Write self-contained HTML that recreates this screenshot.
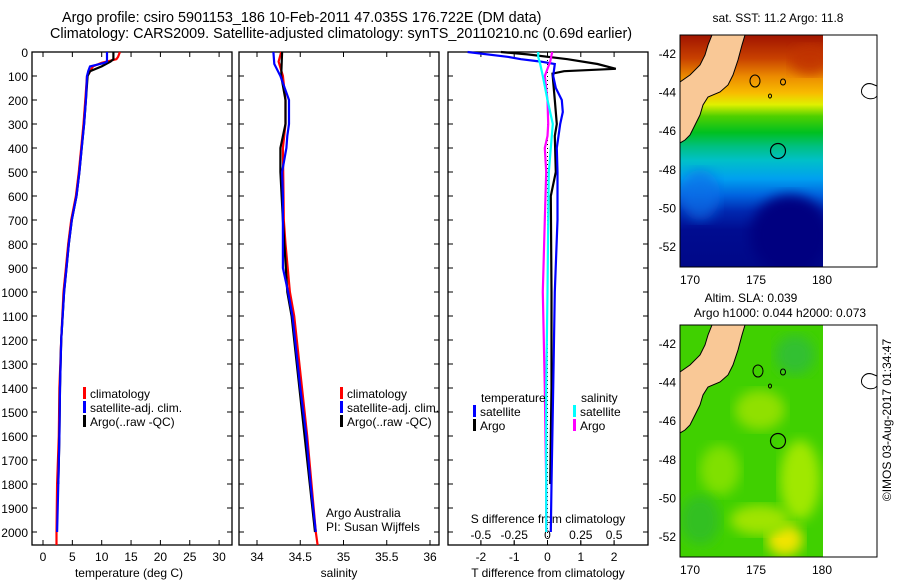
<!DOCTYPE html>
<html><head><meta charset="utf-8">
<style>
body{margin:0;background:#fff;}
svg{display:block;font-family:"Liberation Sans",sans-serif;}
text{fill:#000;}
</style></head>
<body>
<svg id="fig" width="900" height="580" viewBox="0 0 900 580" xmlns="http://www.w3.org/2000/svg">
<defs>
<linearGradient id="sstg" x1="0" y1="0" x2="0" y2="1" gradientUnits="objectBoundingBox">
<stop offset="0" stop-color="#a01400"/><stop offset="0.10" stop-color="#c84000"/>
<stop offset="0.18" stop-color="#ec8c00"/><stop offset="0.25" stop-color="#f8bc00"/>
<stop offset="0.30" stop-color="#e0f000"/><stop offset="0.35" stop-color="#50d000"/>
<stop offset="0.42" stop-color="#00c020"/><stop offset="0.48" stop-color="#00c080"/>
<stop offset="0.54" stop-color="#00c0c8"/><stop offset="0.62" stop-color="#00a0f0"/>
<stop offset="0.69" stop-color="#0064e0"/><stop offset="0.76" stop-color="#0028b0"/>
<stop offset="0.84" stop-color="#000c90"/><stop offset="1" stop-color="#000888"/>
</linearGradient>
<filter id="blur"><feGaussianBlur stdDeviation="6"/></filter>
<clipPath id="clipTop"><rect x="680" y="35" width="143" height="232"/></clipPath>
<clipPath id="clipBot"><rect x="680" y="325" width="143" height="232"/></clipPath>
</defs>

<g font-size="14.4">
<text x="62" y="22">Argo profile: csiro 5901153_186 10-Feb-2011 47.035S 176.722E (DM data)</text>
<text x="50" y="38">Climatology: CARS2009. Satellite-adjusted climatology: synTS_20110210.nc (0.69d earlier)</text>
</g>

<g id="panels"></g>

<g>
<text x="778" y="22" font-size="12" text-anchor="middle">sat. SST: 11.2 Argo: 11.8</text>
<g clip-path="url(#clipTop)">
<rect x="680" y="35" width="143" height="232" fill="url(#sstg)"/>
<ellipse cx="790" cy="235" rx="40" ry="40" fill="#000080" filter="url(#blur)"/>
<ellipse cx="700" cy="195" rx="20" ry="25" fill="#1070e8" filter="url(#blur)" opacity="0.7"/>
<ellipse cx="810" cy="60" rx="20" ry="15" fill="#c03000" filter="url(#blur)" opacity="0.8"/>
<polygon fill="#f9c896" stroke="#000" stroke-width="1" points="712,35 745,35 742,45 738,60 733,75 728,85 720,92 708,97 703,105 700,115 695,125 690,135 685,140 680,143 680,82 690,75 700,65 705,55 708,45"/>
</g>
<rect x="823" y="35" width="54" height="232" fill="#fff"/>
<ellipse cx="755" cy="81" rx="5" ry="6" fill="none" stroke="#000"/>
<ellipse cx="783" cy="82" rx="2.5" ry="3" fill="none" stroke="#000"/>
<ellipse cx="770" cy="96" rx="1.5" ry="2" fill="none" stroke="#000"/>
<path d="M872,84 C865,82 860,88 862,94 C866,100 874,100 877,96 L877,86 Z" fill="none" stroke="#000"/>
<circle cx="778" cy="151" r="7.5" fill="none" stroke="#000" stroke-width="1.2"/>
<rect x="680" y="35" width="197" height="232" fill="none" stroke="#000"/>
</g>

<g>
<text x="751" y="302" font-size="12" text-anchor="middle">Altim. SLA: 0.039</text>
<text x="780" y="317" font-size="12" text-anchor="middle">Argo h1000: 0.044 h2000: 0.073</text>
<g clip-path="url(#clipBot)">
<rect x="680" y="325" width="143" height="232" fill="#40d000"/>
<ellipse cx="760" cy="410" rx="25" ry="20" fill="#90e000" filter="url(#blur)"/>
<ellipse cx="720" cy="470" rx="20" ry="25" fill="#80e000" filter="url(#blur)"/>
<ellipse cx="800" cy="480" rx="20" ry="40" fill="#a0e800" filter="url(#blur)"/>
<ellipse cx="785" cy="540" rx="18" ry="16" fill="#f0e400" filter="url(#blur)"/>
<ellipse cx="760" cy="520" rx="30" ry="15" fill="#a0e400" filter="url(#blur)"/>
<ellipse cx="700" cy="520" rx="20" ry="25" fill="#30c020" filter="url(#blur)"/>
<ellipse cx="795" cy="355" rx="20" ry="20" fill="#30c030" filter="url(#blur)"/>
<polygon fill="#f9c896" stroke="#000" stroke-width="1" points="712,325 745,325 742,335 738,350 733,365 728,375 720,382 708,387 703,395 700,405 695,415 690,425 685,430 680,433 680,372 690,365 700,355 705,345 708,335"/>
</g>
<rect x="823" y="325" width="54" height="232" fill="#fff"/>
<ellipse cx="758" cy="371" rx="5" ry="6" fill="none" stroke="#000"/>
<ellipse cx="783" cy="372" rx="2.5" ry="3" fill="none" stroke="#000"/>
<ellipse cx="770" cy="386" rx="1.5" ry="2" fill="none" stroke="#000"/>
<path d="M872,374 C865,372 860,378 862,384 C866,390 874,390 877,386 L877,376 Z" fill="none" stroke="#000"/>
<circle cx="778" cy="441" r="7.5" fill="none" stroke="#000" stroke-width="1.2"/>
<rect x="680" y="325" width="197" height="232" fill="none" stroke="#000"/>
</g>
<text x="891" y="420" font-size="12" text-anchor="middle" transform="rotate(-90 891 420)">©IMOS 03-Aug-2017 01:34:47</text>
</svg>

<script>
const depthTicks = [0,100,200,300,400,500,600,700,800,900,1000,1100,1200,1300,1400,1500,1600,1700,1800,1900,2000];
const tempTicks = [0,5,10,15,20,25,30];
const salTicks = [34,34.5,35,35.5,36];
const tdiffTicks = [-2,-1,0,1,2];
const sdiffTicks = [-0.5,-0.25,0,0.25,0.5];
const sdiffTickLabels = ["-0.5","-0.25","0","0.25","0.5"];

const tClimDepth = [0,20,30,45,60,90,100,200,300,400,500,600,700,800,900,1000,1200,1400,1600,1800,2000,2054];
const tClim      = [13.1,12.8,12.5,10.0,8.5,7.8,7.5,7.2,6.9,6.5,6.1,5.6,4.8,4.3,3.9,3.5,3.1,2.8,2.7,2.4,2.3,2.3];
const tSatDepth  = [0,40,45,60,80,100,200,300,400,500,600,700,800,900,1000,1200,1400,1600,1800,2000];
const tSat       = [10.9,10.9,10.5,8.0,7.7,7.5,7.3,7.0,6.6,6.2,5.7,4.9,4.4,4.0,3.6,3.1,2.9,2.8,2.6,2.4];
const tArgoDepth = [0,30,40,60,80,100,200,300,400,500,600,700,800,900,1000,1200,1400,1600,1800];
const tArgo      = [12.0,12.0,11.5,10.0,8.0,7.6,7.3,7.0,6.6,6.2,5.7,4.9,4.4,4.0,3.6,3.1,2.9,2.8,2.6];

const sClimDepth = [0,40,100,200,300,400,700,800,1000,1100,1400,1600,1800,2000,2054];
const sClim      = [34.28,34.25,34.30,34.33,34.33,34.30,34.31,34.33,34.38,34.43,34.52,34.58,34.63,34.68,34.70];
const sSatDepth  = [0,50,100,150,200,300,350,400,500,600,900,1000,1100,1400,1600,1800,2000];
const sSat       = [34.19,34.20,34.27,34.32,34.37,34.37,34.35,34.34,34.29,34.30,34.30,34.36,34.41,34.50,34.57,34.62,34.68];
const sArgoDepth = [0,100,200,300,400,500,700,1000,1100,1400,1600,1800,2000];
const sArgo      = [34.29,34.28,34.33,34.33,34.27,34.27,34.30,34.35,34.40,34.49,34.55,34.61,34.67];

const dTSatDepth = [0,20,30,40,50,100,150,200,250,300,400,500,700,1000,1400,1800,2000];
const dTSat      = [-2.4,-1.2,-0.8,-0.2,0.22,0.17,0.25,0.43,0.46,0.38,0.28,0.3,0.3,0.22,0.17,0.12,0.1];
const dTArgoDepth= [0,10,30,50,70,80,90,200,300,350,500,600,1000,1400,1800];
const dTArgo     = [-1.4,-0.6,0.6,1.5,2.05,0.5,0.15,0.22,0.28,0.22,0.25,0.1,0.12,0.12,0.08];
const dSSatDepth = [0,20,50,100,200,300,400,500,700,1000,1400,1800,2000];
const dSSat      = [-0.07,-0.07,-0.055,-0.035,0.0,0.04,0.025,0.01,0.005,0.0,-0.01,-0.01,-0.01];
const dSArgoDepth= [0,40,100,200,300,350,400,500,700,1000,1400,1800,2000];
const dSArgo     = [0.035,0.02,-0.02,0.0,0.005,0.0,-0.02,-0.01,-0.02,-0.035,-0.02,-0.01,-0.01];

const NS='http://www.w3.org/2000/svg';
const svg=document.getElementById('panels');
const Y0=52, YB=545;
const yD = d => Y0 + d*0.24;
const xT = t => 43 + t*5.87;
const xS = s => 257 + (s-34)*86.5;
const xDT = t => 547.5 + t*33.3;
const xDS = s => 547.5 + s*133.2;
function mk(tag, attrs, parent){const e=document.createElementNS(NS,tag);for(const k in attrs)e.setAttribute(k,attrs[k]);(parent||svg).appendChild(e);return e;}
function txt(x,y,s,anchor,size,parent){const e=mk('text',{x:x,y:y,'font-size':size||12,'text-anchor':anchor||'start'},parent);e.textContent=s;return e;}

function panel(name,x0,x1){
  const g=mk('g',{});
  
  
  mk('rect',{x:x0,y:Y0,width:x1-x0,height:YB-Y0,fill:'none',stroke:'#000','stroke-width':1.3},g);
  depthTicks.forEach(d=>{
    mk('line',{x1:x0,x2:x0+5,y1:yD(d),y2:yD(d),stroke:'#000'},g);
    mk('line',{x1:x1-5,x2:x1,y1:yD(d),y2:yD(d),stroke:'#000'},g);
  });
  return g;
}
function series(g,name,xs,ds,fx,color){
  const pts=xs.map((v,i)=>fx(v).toFixed(1)+','+yD(ds[i]).toFixed(1)).join(' ');
  const p=mk('polyline',{points:pts,fill:'none',stroke:color,'stroke-width':2.2},g);
  
  
}
function xticks(g,ticks,labels,fx,ylab){
  ticks.forEach((t,i)=>{
    const x=fx(t);
    mk('line',{x1:x,x2:x,y1:YB,y2:YB-5,stroke:'#000'},g);
    mk('line',{x1:x,x2:x,y1:Y0,y2:Y0+5,stroke:'#000'},g);
    const tl=txt(x,ylab,labels[i],'middle',12,g);
    
    
  });
}
function legend(g,x,y,items){
  items.forEach((it,i)=>{
    mk('rect',{x:x,y:y+i*14-11,width:3,height:12,fill:it[1]},g);
    const t=txt(x+7,y+i*14,it[0],'start',12,g);
    
    
  });
}

const yax=mk('g',{});


depthTicks.forEach(d=>{txt(28,yD(d)+5,String(d),'end',12,yax);});

const p1=panel('temperature-panel',32,232);
xticks(p1,tempTicks,tempTicks.map(String),xT,561);
series(p1,'temp-climatology',tClim,tClimDepth,xT,'#f00');
series(p1,'temp-argo',tArgo,tArgoDepth,xT,'#000');
series(p1,'temp-satellite',tSat,tSatDepth,xT,'#00f');
txt(129,577,'temperature (deg C)','middle',12,p1);
legend(p1,83,398,[['climatology','#f00'],['satellite-adj. clim.','#00f'],['Argo(..raw -QC)','#000']]);

const p2=panel('salinity-panel',239,439);
xticks(p2,salTicks,salTicks.map(String),xS,561);
series(p2,'sal-climatology',sClim,sClimDepth,xS,'#f00');
series(p2,'sal-argo',sArgo,sArgoDepth,xS,'#000');
series(p2,'sal-satellite',sSat,sSatDepth,xS,'#00f');
txt(339,577,'salinity','middle',12,p2);
legend(p2,340,398,[['climatology','#f00'],['satellite-adj. clim.','#00f'],['Argo(..raw -QC)','#000']]);
txt(326,517,'Argo Australia','start',12,p2);
txt(326,531,'PI: Susan Wijffels','start',12,p2);

const p3=panel('difference-panel',448,648);
mk('line',{x1:547.5,x2:547.5,y1:Y0,y2:YB,stroke:'#000','stroke-dasharray':'1,3'},p3);
tdiffTicks.forEach(t=>{const x=xDT(t);mk('line',{x1:x,x2:x,y1:YB,y2:YB-5,stroke:'#000'},p3);mk('line',{x1:x,x2:x,y1:Y0,y2:Y0+5,stroke:'#000'},p3);txt(x,561,String(t),'middle',12,p3);});
sdiffTicks.forEach((s,i)=>{const x=xDS(s);mk('line',{x1:x,x2:x,y1:YB,y2:YB-4,stroke:'#000'},p3);txt(x,539,sdiffTickLabels[i],'middle',12,p3);});
txt(548,523,'S difference from climatology','middle',12,p3);
txt(548,577,'T difference from climatology','middle',12,p3);
series(p3,'tdiff-argo',dTArgo,dTArgoDepth,xDT,'#000');
series(p3,'tdiff-satellite',dTSat,dTSatDepth,xDT,'#00f');
series(p3,'sdiff-argo',dSArgo,dSArgoDepth,xDS,'#f0f');
series(p3,'sdiff-satellite',dSSat,dSSatDepth,xDS,'#0ff');
txt(481,402,'temperature','start',12,p3);
legend(p3,473,416,[['satellite','#00f'],['Argo','#000']]);
txt(581,402,'salinity','start',12,p3);
legend(p3,573,416,[['satellite','#0ff'],['Argo','#f0f']]);

const lonTicks=[170,175,180];
const latTicks=[-42,-44,-46,-48,-50,-52];
const xLon = l => 690 + (l-170)*13.2;
function mapAxes(top, latFn, labY){
  const g=mk('g',{});
  
  
  lonTicks.forEach(l=>{const x=xLon(l);mk('line',{x1:x,x2:x,y1:top,y2:top+4,stroke:'#000'},g);mk('line',{x1:x,x2:x,y1:top+232,y2:top+228,stroke:'#000'},g);txt(x,labY,String(l),'middle',12,g);});
  latTicks.forEach(a=>{const y=latFn(a);mk('line',{x1:680,x2:684,y1:y,y2:y,stroke:'#000'},g);mk('line',{x1:873,x2:877,y1:y,y2:y,stroke:'#000'},g);txt(676,y+5,String(a),'end',12,g);});
}
mapAxes(35, a=>53+(-42-a)*19.3, 284);
mapAxes(325, a=>343+(-42-a)*19.3, 574);
</script>
</body></html>
